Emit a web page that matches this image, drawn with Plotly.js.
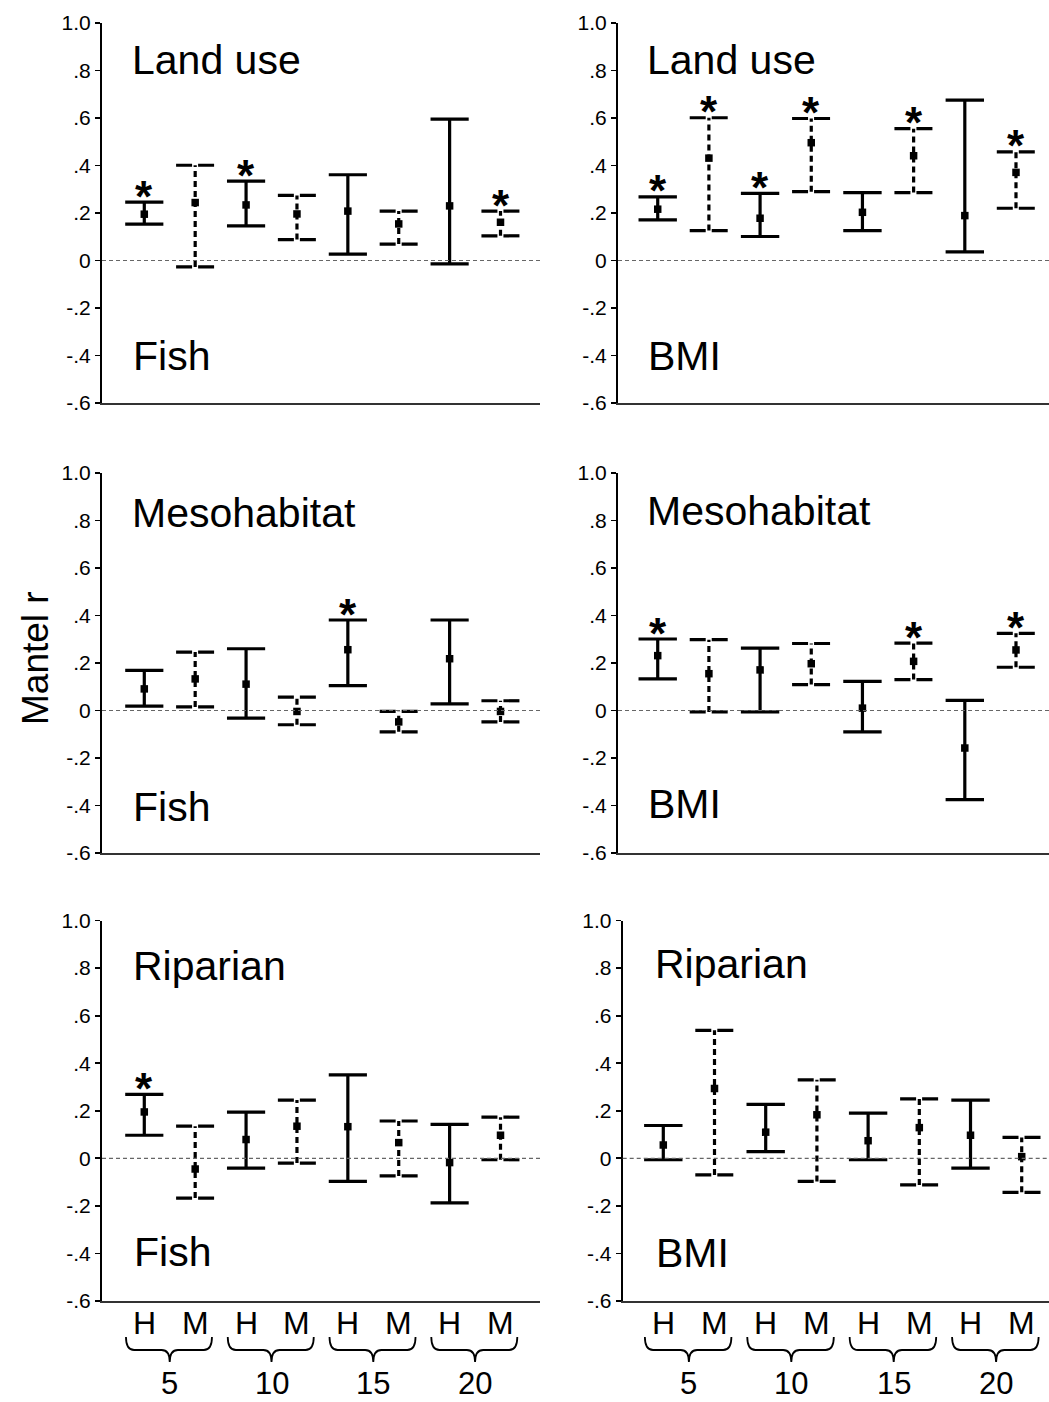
<!DOCTYPE html>
<html>
<head>
<meta charset="utf-8">
<script src="https://cdn.plot.ly/plotly-3.0.1.min.js"></script>
<style>
  html, body { margin: 0; padding: 0; background: #fff; }
  #chart { width: 1049px; height: 1402px; }
</style>
</head>
<body>
<div id="chart"></div>
<script>
// Spatial scales (km) and the two distance measures drawn at each scale
const scaleKm = ['5', '10', '15', '20'];
const methods = ['H', 'M'];

// Mantel r: mean, lower and upper limits, and significance flag (1 = *)
const fishLandMean = [0.195, 0.244, 0.234, 0.196, 0.208, 0.154, 0.230, 0.161];
const fishLandLo   = [0.153, -0.027, 0.146, 0.088, 0.027, 0.069, -0.014, 0.104];
const fishLandHi   = [0.246, 0.401, 0.334, 0.274, 0.361, 0.208, 0.595, 0.208];
const fishLandSig  = [1, 0, 1, 0, 0, 0, 0, 1];

const bmiLandMean = [0.216, 0.431, 0.178, 0.496, 0.203, 0.441, 0.189, 0.371];
const bmiLandLo   = [0.171, 0.126, 0.101, 0.290, 0.126, 0.286, 0.036, 0.220];
const bmiLandHi   = [0.268, 0.601, 0.283, 0.598, 0.286, 0.555, 0.675, 0.457];
const bmiLandSig  = [1, 1, 1, 1, 0, 1, 0, 1];

const fishMesoMean = [0.091, 0.133, 0.111, -0.004, 0.256, -0.048, 0.218, -0.004];
const fishMesoLo   = [0.018, 0.015, -0.032, -0.060, 0.105, -0.090, 0.028, -0.048];
const fishMesoHi   = [0.169, 0.246, 0.260, 0.056, 0.381, -0.004, 0.381, 0.041];
const fishMesoSig  = [0, 0, 0, 0, 1, 0, 0, 0];

const bmiMesoMean = [0.231, 0.155, 0.171, 0.197, 0.010, 0.207, -0.158, 0.255];
const bmiMesoLo   = [0.133, -0.006, -0.006, 0.109, -0.090, 0.130, -0.375, 0.182];
const bmiMesoHi   = [0.301, 0.298, 0.263, 0.282, 0.123, 0.284, 0.043, 0.325];
const bmiMesoSig  = [1, 0, 0, 0, 0, 1, 0, 1];

const fishRipMean = [0.195, -0.045, 0.079, 0.135, 0.133, 0.066, -0.018, 0.097];
const fishRipLo   = [0.097, -0.167, -0.041, -0.020, -0.097, -0.074, -0.187, -0.006];
const fishRipHi   = [0.269, 0.135, 0.194, 0.245, 0.351, 0.157, 0.143, 0.173];
const fishRipSig  = [1, 0, 0, 0, 0, 0, 0, 0];

const bmiRipMean = [0.056, 0.294, 0.110, 0.183, 0.074, 0.129, 0.097, 0.007];
const bmiRipLo   = [-0.006, -0.070, 0.028, -0.097, -0.006, -0.112, -0.041, -0.143];
const bmiRipHi   = [0.138, 0.538, 0.227, 0.330, 0.190, 0.250, 0.245, 0.088];
const bmiRipSig  = [0, 0, 0, 0, 0, 0, 0, 0];

// Y axis ticks
const yTickVals = [-0.6, -0.4, -0.2, 0, 0.2, 0.4, 0.6, 0.8, 1.0];
const yTickText = ['-.6', '-.4', '-.2', '0', '.2', '.4', '.6', '.8', '1.0'];

// ---------------------------------------------------------------------------
const W = 1049, H = 1402;
const FONT = 'Liberation Sans, Arial, Helvetica, sans-serif';
const px = v => v / W;          // pixel -> paper (x)
const py = v => 1 - v / H;      // pixel -> paper (y)

// slot labels H,M,H,M,... and their x positions 1..8
const slotLabels = [];
scaleKm.forEach(() => methods.forEach(m => slotLabels.push(m)));
const slotX = slotLabels.map((_, i) => i + 1);

const panels = [
  { mean: fishLandMean, lo: fishLandLo, hi: fishLandHi, sig: fishLandSig, env: 'Land use', taxon: 'Fish',
    xd: [102, 540], xr: [0.169, 8.776], yd: [23, 403], envY: 75, taxY: 371, labX: 130 },
  { mean: bmiLandMean, lo: bmiLandLo, hi: bmiLandHi, sig: bmiLandSig, env: 'Land use', taxon: 'BMI',
    xd: [618, 1049], xr: [0.224, 8.645], yd: [23, 403], envY: 75, taxY: 371, labX: 645 },
  { mean: fishMesoMean, lo: fishMesoLo, hi: fishMesoHi, sig: fishMesoSig, env: 'Mesohabitat', taxon: 'Fish',
    xd: [102, 540], xr: [0.169, 8.776], yd: [473, 853], envY: 528, taxY: 821, labX: 130 },
  { mean: bmiMesoMean, lo: bmiMesoLo, hi: bmiMesoHi, sig: bmiMesoSig, env: 'Mesohabitat', taxon: 'BMI',
    xd: [618, 1049], xr: [0.224, 8.645], yd: [473, 853], envY: 525, taxY: 818, labX: 645 },
  { mean: fishRipMean, lo: fishRipLo, hi: fishRipHi, sig: fishRipSig, env: 'Riparian', taxon: 'Fish',
    xd: [102, 540], xr: [0.169, 8.776], yd: [920.5, 1301], envY: 980, taxY: 1266, labX: 131, bottom: true },
  { mean: bmiRipMean, lo: bmiRipLo, hi: bmiRipHi, sig: bmiRipSig, env: 'Riparian', taxon: 'BMI',
    xd: [622.7, 1049], xr: [0.207, 8.533], yd: [920.5, 1301], envY: 978, taxY: 1267, labX: 653, bottom: true }
];

const CAP = 0.375;   // half cap width, x units
const LW = 3.2;
const traces = [];
const annotations = [];
const shapes = [];
const layout = {
  width: W, height: H,
  margin: { l: 0, r: 0, t: 0, b: 0 },
  paper_bgcolor: '#fff', plot_bgcolor: '#fff',
  showlegend: false,
  font: { family: FONT, color: '#000' }
};

panels.forEach((p, k) => {
  const n = k === 0 ? '' : String(k + 1);
  const xa = 'x' + n, ya = 'y' + n;

  layout['xaxis' + n] = {
    domain: [px(p.xd[0]), px(p.xd[1])],
    range: p.xr,
    anchor: ya,
    showgrid: false, zeroline: false,
    showline: true, linecolor: '#333', linewidth: 2,
    ticks: '', showticklabels: false,
    fixedrange: true
  };
  layout['yaxis' + n] = {
    domain: [py(p.yd[1]), py(p.yd[0])],
    range: [-0.6, 1.0],
    anchor: xa,
    showgrid: false, zeroline: false,
    showline: true, linecolor: '#000', linewidth: 2,
    ticks: 'outside', ticklen: 5, tickwidth: 1.8, tickcolor: '#000',
    tickvals: yTickVals, ticktext: yTickText,
    tickfont: { family: FONT, size: 21, color: '#000' },
    fixedrange: true
  };

  // dashed reference line at r = 0
  shapes.push({
    type: 'line', xref: xa + ' domain', yref: ya,
    x0: 0, x1: 1, y0: 0, y1: 0,
    line: { color: '#666', width: 1.2, dash: '4px,3px' }
  });

  // build the interval paths
  const hx = [], hy = [], msx = [], msy = [], mcx = [], mcy = [];
  slotX.forEach((x, i) => {
    const lo = p.lo[i], hi = p.hi[i];
    if (slotLabels[i] === 'H') {
      hx.push(x, x, null, x - CAP, x + CAP, null, x - CAP, x + CAP, null);
      hy.push(lo, hi, null, hi, hi, null, lo, lo, null);
    } else {
      msx.push(x, x, null);
      msy.push(lo, hi, null);
      mcx.push(x - CAP, x + CAP, null, x - CAP, x + CAP, null);
      mcy.push(hi, hi, null, lo, lo, null);
    }
  });

  traces.push({ type: 'scatter', mode: 'lines', xaxis: xa, yaxis: ya, x: hx, y: hy,
    line: { color: '#000', width: LW }, hoverinfo: 'skip' });
  traces.push({ type: 'scatter', mode: 'lines', xaxis: xa, yaxis: ya, x: msx, y: msy,
    line: { color: '#000', width: LW, dash: '6px,4px' }, hoverinfo: 'skip' });
  traces.push({ type: 'scatter', mode: 'lines', xaxis: xa, yaxis: ya, x: mcx, y: mcy,
    line: { color: '#000', width: LW, dash: '16px,6px' }, hoverinfo: 'skip' });
  traces.push({ type: 'scatter', mode: 'markers', xaxis: xa, yaxis: ya, x: slotX, y: p.mean,
    marker: { symbol: 'square', size: 7.5, color: '#000' }, hoverinfo: 'skip' });

  // significance stars
  slotX.forEach((x, i) => {
    if (p.sig[i]) {
      annotations.push({
        xref: xa, yref: ya, x: x, y: p.hi[i], text: '<b>*</b>', showarrow: false,
        yanchor: 'middle', xanchor: 'center', yshift: 6,
        font: { family: FONT, size: 44, color: '#000' }
      });
    }
  });

  // panel labels
  annotations.push({
    xref: 'paper', yref: 'paper', x: px(p.labX), y: py(p.envY - 14.5),
    xanchor: 'left', yanchor: 'middle', showarrow: false, text: p.env,
    font: { family: FONT, size: 41, color: '#000' }
  });
  annotations.push({
    xref: 'paper', yref: 'paper', x: px(p.labX + 1), y: py(p.taxY - 14.5),
    xanchor: 'left', yanchor: 'middle', showarrow: false, text: p.taxon,
    font: { family: FONT, size: 41, color: '#000' }
  });

  // H / M labels, scale braces and km labels under the bottom panels
  if (p.bottom) {
    slotX.forEach((x, i) => {
      annotations.push({
        xref: xa, yref: 'paper', x: x, y: py(1323), text: slotLabels[i], showarrow: false,
        xanchor: 'center', yanchor: 'middle',
        font: { family: FONT, size: 32, color: '#000' }
      });
    });
    const yT = py(1337), yM = py(1350), yB = py(1362);
    const d = 0.16;
    scaleKm.forEach((km, j) => {
      const xl = slotX[2 * j] - 0.36, xr = slotX[2 * j + 1] + 0.33;
      const c = (slotX[2 * j] + slotX[2 * j + 1]) / 2;
      const path = `M ${xl},${yT} Q ${xl},${yM} ${xl + d},${yM} L ${c - d},${yM} ` +
                   `Q ${c},${yM} ${c},${yB} Q ${c},${yM} ${c + d},${yM} ` +
                   `L ${xr - d},${yM} Q ${xr},${yM} ${xr},${yT}`;
      shapes.push({ type: 'path', xref: xa, yref: 'paper', path: path,
        line: { color: '#000', width: 1.8 } });
      annotations.push({
        xref: xa, yref: 'paper', x: c, y: py(1383), text: km, showarrow: false,
        xanchor: 'center', yanchor: 'middle',
        font: { family: FONT, size: 31, color: '#000' }
      });
    });
  }
});

// shared y-axis title
annotations.push({
  xref: 'paper', yref: 'paper', x: px(35), y: py(658), textangle: -90,
  text: 'Mantel r', showarrow: false, xanchor: 'center', yanchor: 'middle',
  font: { family: FONT, size: 37, color: '#000' }
});

layout.annotations = annotations;
layout.shapes = shapes;

Plotly.newPlot('chart', traces, layout, { staticPlot: true, displayModeBar: false });
</script>
</body>
</html>
